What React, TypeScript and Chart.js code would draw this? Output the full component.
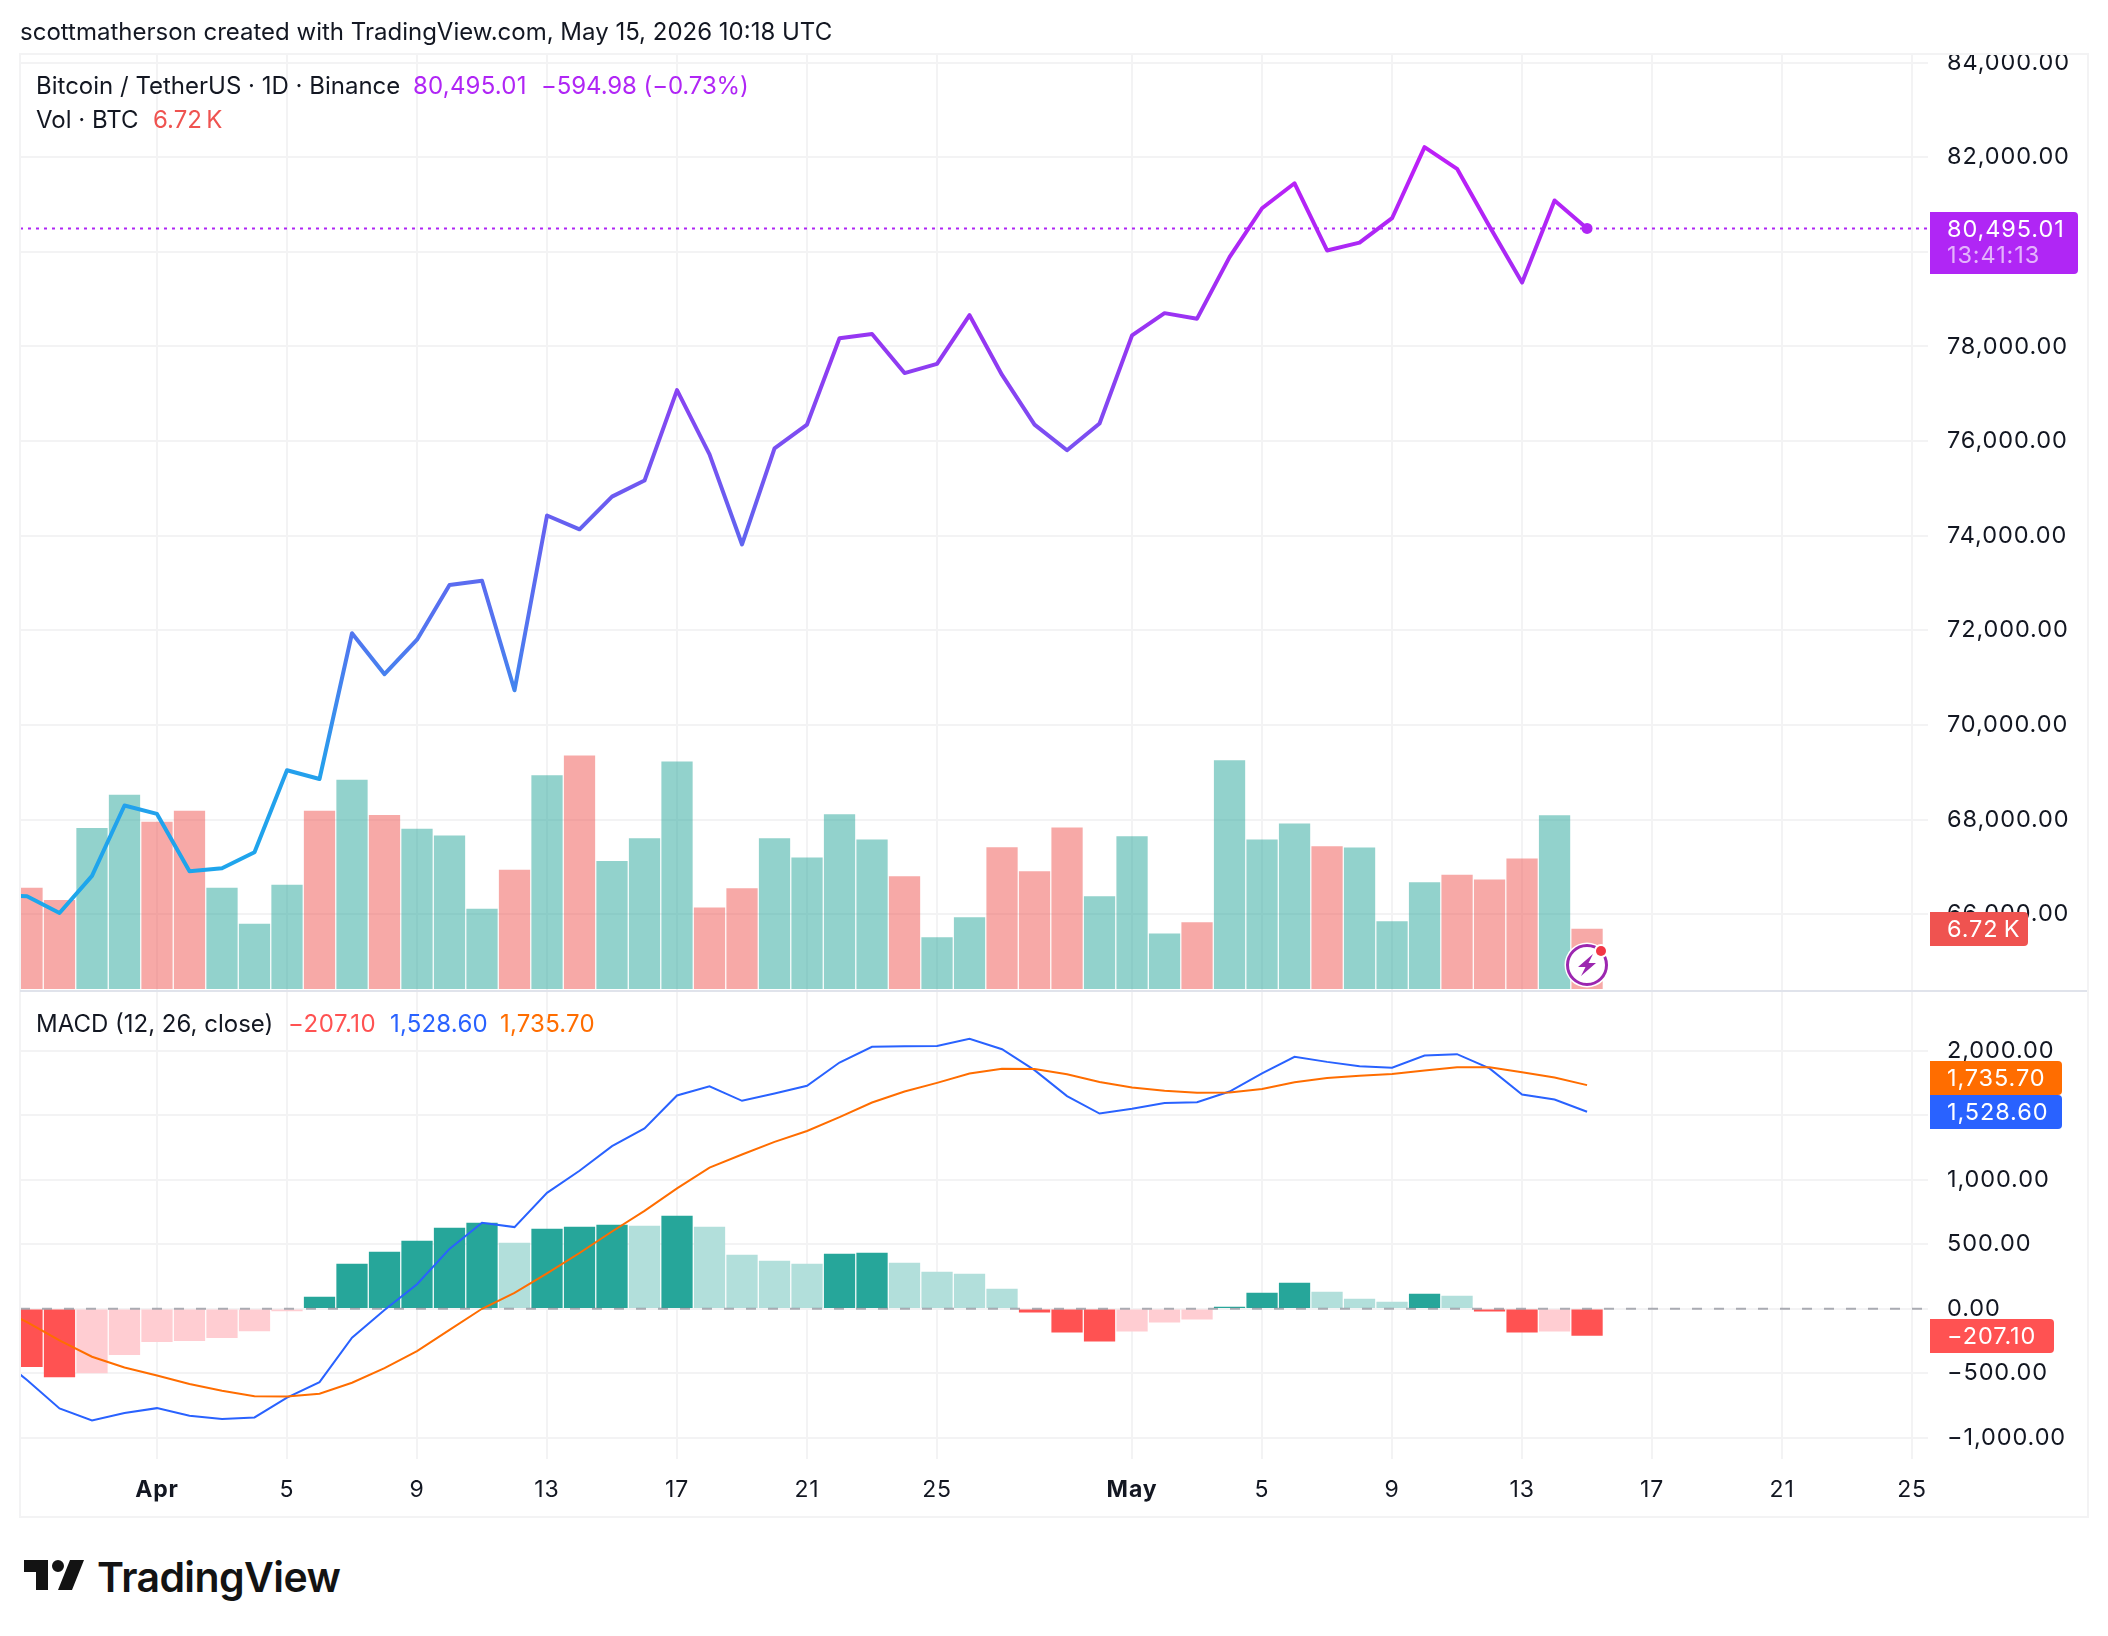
import { useEffect, useRef } from "react";
import { Chart, registerables } from "chart.js";

Chart.register(...registerables);

// day numbers count from Apr 1 = 0. The line series start one day before the
// first visible bar (Mar 27) so they run off the left edge like the original.
const firstLineDay = -5;
const firstBarDay = -4;

const closes = [
  66390, 66381, 66025, 66810, 68298, 68120, 66907, 66972, 67311, 69043, 68857, 71939, 71073, 71801,
  72958, 73047, 70733, 74427, 74135, 74825, 75165, 77078, 75718, 73815, 75844, 76349, 78175, 78262,
  77437, 77631, 78660, 77398, 76349, 75807, 76370, 78235, 78704, 78587, 79889, 80921, 81449, 80029,
  80194, 80710, 82211, 81754, 80534, 79349, 81085, 80495.01,
];

// thousands of BTC
const volumes = [
  11.33, 9.95, 18.05, 21.8, 18.74, 19.99, 11.33, 7.28, 11.67, 19.99, 23.48, 19.52, 17.96, 17.19,
  8.96, 13.35, 23.98, 26.2, 14.32, 16.9, 25.53, 9.1, 11.27, 16.9, 14.73, 19.59, 16.74, 12.61, 5.74,
  8.01, 15.87, 13.18, 18.11, 10.37, 17.11, 6.18, 7.43, 25.67, 16.74, 18.55, 15.99, 15.86, 7.56,
  11.93, 12.8, 12.24, 14.62, 19.49, 6.72,
];

const macdLine = [
  -349, -553, -773, -866, -809, -771, -830, -856, -843, -690, -569, -225, -10, 191, 465, 667, 634,
  900, 1071, 1262, 1399, 1655, 1727, 1614, 1671, 1730, 1911, 2033, 2038, 2040, 2095, 2014, 1852,
  1650, 1515, 1552, 1596, 1603, 1686, 1826, 1955, 1916, 1883, 1870, 1965, 1976, 1865, 1663, 1624,
  1528.6,
];

const signalLine = [
  18, -103, -245, -372, -456, -518, -584, -636, -678, -680, -659, -574, -460, -328, -164, 0, 124,
  275, 433, 600, 760, 934, 1096, 1197, 1295, 1380, 1487, 1601, 1686, 1753, 1826, 1862, 1860, 1820,
  1760, 1718, 1692, 1676, 1678, 1706, 1758, 1790, 1808, 1821, 1849, 1875, 1875, 1836, 1794, 1735.7,
];

const histogram = [
  -450, -528, -497, -357, -256, -248, -225, -171, -16, 91, 347, 440, 525, 626, 665, 509, 618, 634,
  649, 641, 719, 634, 416, 370, 347, 424, 432, 354, 284, 269, 153, -26, -181, -251, -173, -103, -80,
  13, 122, 199, 129, 75, 52, 114, 98, -18, -181, -173, -207.1,
];

const priceTicks = [66000, 68000, 70000, 72000, 74000, 76000, 78000, 80000, 82000, 84000];
const macdTicks = [-1000, -500, 0, 500, 1000, 1500, 2000];
const macdTickLabels = ["−1,000.00", "−500.00", "0.00", "500.00", "1,000.00", "", "2,000.00"];
const timeTickDays = [0, 4, 8, 12, 16, 20, 24, 30, 34, 38, 42, 46, 50, 54];
const timeTickLabels = ["Apr", "5", "9", "13", "17", "21", "25", "May", "5", "9", "13", "17", "21", "25"];

const gradientPrices = [66000, 69000, 70500, 72000, 74000, 76000, 78000, 80000, 82000];
const gradientColors = [
  "#1ca7ec", "#24a0ec", "#3f88ee", "#5375f0", "#6263f0", "#7b4ff2", "#9338f2", "#ab28f5", "#bd1ff8",
];

const FONT = "Inter, 'Noto Sans', sans-serif";
const TEXT = "#131722";
const PURPLE = "#b026f5";
const GRID = "#f3f3f4";
const UP = "#26a69a";
const DOWN = "#ef5350";
const AXIS_SIZE = 23.5;
const AXIS_SPACING = 0.9;

const X_MIN = -4.215;
const X_MAX = 54.49;

const letterSpacing = {
  id: "letterSpacing",
  beforeDraw(chart: any) {
    chart.ctx.letterSpacing = `${AXIS_SPACING}px`;
  },
};

function noPadding(scale: any) {
  scale.paddingTop = 0;
  scale.paddingBottom = 0;
  scale.paddingLeft = 0;
  scale.paddingRight = 0;
}

function points(arr: number[], first: number) {
  return arr.map((y, i) => ({ x: first + i, y }));
}

function xScale(showLabels: boolean, height: number) {
  return {
    type: "linear",
    min: X_MIN,
    max: X_MAX,
    offset: false,
    grid: { color: GRID, lineWidth: 2, drawTicks: false, offset: false },
    border: { display: false },
    afterBuildTicks: (axis: any) => {
      axis.ticks = timeTickDays.map((value) => ({ value }));
    },
    afterFit: (scale: any) => {
      noPadding(scale);
      scale.height = height;
    },
    ticks: {
      display: showLabels,
      autoSkip: false,
      maxRotation: 0,
      padding: 17,
      color: TEXT,
      callback: (_v: number, i: number) => timeTickLabels[i],
      font: (ctx: any) => ({
        family: FONT,
        size: 23,
        weight: ctx.tick && (ctx.tick.label === "Apr" || ctx.tick.label === "May") ? "bold" : "normal",
      }),
    },
  };
}

function yScale(min: number, max: number, values: number[], label: (i: number) => string) {
  return {
    position: "right",
    min,
    max,
    grid: { color: GRID, lineWidth: 2, drawTicks: false },
    border: { display: false },
    afterBuildTicks: (axis: any) => {
      axis.ticks = values.map((value) => ({ value }));
    },
    afterFit: (scale: any) => {
      noPadding(scale);
      scale.width = 180;
    },
    ticks: {
      autoSkip: false,
      crossAlign: "near",
      padding: 19,
      color: TEXT,
      font: { family: FONT, size: AXIS_SIZE },
      callback: (_v: number, i: number) => label(i),
    },
  };
}

function PriceChart() {
  const canvasRef = useRef<HTMLCanvasElement>(null);

  useEffect(() => {
    if (!canvasRef.current) return;
    const last = closes.length - 1;

    const chart = new Chart(canvasRef.current, {
      type: "line",
      data: {
        datasets: [
          {
            type: "line",
            data: [
              { x: X_MIN, y: closes[last] },
              { x: X_MAX, y: closes[last] },
            ],
            borderColor: PURPLE,
            borderWidth: 2,
            borderDash: [3, 5],
            pointRadius: 0,
            order: 2,
          },
          {
            type: "line",
            data: points(closes, firstLineDay),
            borderWidth: 4,
            borderJoinStyle: "round",
            borderCapStyle: "round",
            borderColor: (ctx: any) => {
              const { chart: c } = ctx;
              if (!c.chartArea) return PURPLE;
              const scale = c.scales.y;
              const y0 = scale.getPixelForValue(gradientPrices[0]);
              const y1 = scale.getPixelForValue(gradientPrices[gradientPrices.length - 1]);
              const grad = c.ctx.createLinearGradient(0, y0, 0, y1);
              const span = gradientPrices[gradientPrices.length - 1] - gradientPrices[0];
              gradientPrices.forEach((p, i) => grad.addColorStop((p - gradientPrices[0]) / span, gradientColors[i]));
              return grad;
            },
            pointRadius: (ctx: any) => (ctx.dataIndex === last ? 5.5 : 0),
            pointBackgroundColor: PURPLE,
            pointBorderWidth: 0,
            order: 1,
          },
          {
            type: "bar",
            yAxisID: "vol",
            data: points(volumes, firstBarDay),
            barThickness: 30.6,
            // closes has one extra leading day, so closes[i + 1] is this bar's close
            backgroundColor: volumes.map((_, i) =>
              closes[i + 1] >= closes[i] ? "rgba(38,166,154,0.5)" : "rgba(239,83,80,0.5)"
            ),
            order: 3,
          },
        ],
      },
      options: {
        animation: false,
        responsive: false,
        // 6px top and bottom: Chart.js keeps room for point overflow anyway
        layout: { padding: { left: 20, right: 0, top: 6, bottom: 6 } },
        plugins: { legend: { display: false }, tooltip: { enabled: false } },
        scales: {
          x: xScale(false, 0),
          y: yScale(64377, 84202, priceTicks, (i) => priceTicks[i].toLocaleString("en-US", { minimumFractionDigits: 2 })),
          vol: {
            display: false,
            min: -0.259,
            max: 105.3,
            afterFit: noPadding,
          },
        },
      },
      plugins: [letterSpacing],
    } as any);

    return () => chart.destroy();
  }, []);

  return <canvas ref={canvasRef} width={2108} height={950} style={{ position: "absolute", left: 0, top: 47, display: "block" }} />;
}

function MacdChart() {
  const canvasRef = useRef<HTMLCanvasElement>(null);

  useEffect(() => {
    if (!canvasRef.current) return;

    const histColor = (v: number, i: number) => {
      const prev = i > 0 ? histogram[i - 1] : 0;
      if (v >= 0) return v >= prev ? UP : "#b2dfdb";
      return v < prev ? "#ff5252" : "#ffcdd2";
    };

    const chart = new Chart(canvasRef.current, {
      type: "line",
      data: {
        datasets: [
          {
            type: "line",
            data: points(signalLine, firstLineDay),
            borderColor: "#ff6d00",
            borderWidth: 2,
            pointRadius: 0,
            order: 1,
          },
          {
            type: "line",
            data: points(macdLine, firstLineDay),
            borderColor: "#2962ff",
            borderWidth: 2,
            pointRadius: 0,
            order: 2,
          },
          {
            type: "line",
            data: [
              { x: X_MIN, y: 0 },
              { x: X_MAX, y: 0 },
            ],
            borderColor: "rgba(120,123,134,0.6)",
            borderWidth: 2,
            borderDash: [10, 12],
            pointRadius: 0,
            order: 3,
          },
          {
            type: "bar",
            data: points(histogram, firstBarDay),
            barThickness: 30.6,
            backgroundColor: histogram.map(histColor),
            order: 4,
          },
        ],
      },
      options: {
        animation: false,
        responsive: false,
        layout: { padding: { left: 20, right: 0, top: 6, bottom: 0 } },
        plugins: { legend: { display: false }, tooltip: { enabled: false } },
        scales: {
          x: xScale(true, 56.7),
          y: yScale(-1168, 2466, macdTicks, (i) => macdTickLabels[i]),
        },
      },
      plugins: [letterSpacing],
    } as any);

    return () => chart.destroy();
  }, []);

  return <canvas ref={canvasRef} width={2108} height={531} style={{ position: "absolute", left: 0, top: 985, display: "block" }} />;
}

function Txt({ x, cy, size = 24, color = TEXT, weight = 400, spacing = 0, children }: any) {
  return (
    <div
      style={{
        position: "absolute",
        left: x,
        top: cy,
        transform: "translateY(-50%)",
        fontFamily: FONT,
        fontSize: size,
        fontWeight: weight,
        letterSpacing: spacing,
        color,
        lineHeight: 1,
        whiteSpace: "nowrap",
      }}
    >
      {children}
    </div>
  );
}

function Tag({ top, bottom, right, color }: any) {
  return (
    <div
      style={{
        position: "absolute",
        left: 1930,
        top,
        width: right - 1930,
        height: bottom - top,
        background: color,
        borderRadius: "0 4px 4px 0",
      }}
    />
  );
}

function AxisTag({ cy, color = "#fff", children }: any) {
  return (
    <Txt x={1947} cy={cy} size={AXIS_SIZE} spacing={AXIS_SPACING} color={color}>
      {children}
    </Txt>
  );
}

export default function App() {
  return (
    <div style={{ position: "absolute", left: 0, top: 0, width: 2108, height: 1636, background: "#fff", overflow: "hidden" }}>
      <PriceChart />
      <MacdChart />

      {/* the top tick label is cut by the frame */}
      <div style={{ position: "absolute", left: 0, top: 44, width: 2108, height: 9, background: "#fff" }} />

      <Txt x={20} cy={32} size={24}>
        scottmatherson created with TradingView.com, May 15, 2026 10:18 UTC
      </Txt>

      {/* frame and pane separator */}
      <div style={{ position: "absolute", left: 19, top: 53, width: 2066, height: 1461, border: "2px solid #f3f3f4" }} />
      <div style={{ position: "absolute", left: 20, top: 989.5, width: 2067, height: 2, background: "#e0e3eb" }} />

      <Txt x={36} cy={86}>Bitcoin / TetherUS · 1D · Binance</Txt>
      <Txt x={413} cy={86} color={PURPLE} spacing={0.2}>80,495.01</Txt>
      <Txt x={541} cy={86} color={PURPLE} spacing={-0.1}>−594.98 (−0.73%)</Txt>
      <Txt x={36} cy={120}>Vol · BTC</Txt>
      <Txt x={153} cy={120} color={DOWN}>6.72{"\u202f"}K</Txt>

      <Txt x={36} cy={1024}>MACD (12, 26, close)</Txt>
      <Txt x={288} cy={1024} color="#ff5252" spacing={0.5}>−207.10</Txt>
      <Txt x={390} cy={1024} color="#2962ff" spacing={0.2}>1,528.60</Txt>
      <Txt x={500} cy={1024} color="#ff6d00" spacing={0.2}>1,735.70</Txt>

      <Tag top={212} bottom={274} right={2078} color={PURPLE} />
      <AxisTag cy={229}>80,495.01</AxisTag>
      <AxisTag cy={255} color="rgba(255,255,255,0.65)">13:41:13</AxisTag>

      <Tag top={912} bottom={946} right={2028} color={DOWN} />
      <AxisTag cy={929}>6.72{"\u202f"}K</AxisTag>

      <Tag top={1061} bottom={1095} right={2062} color="#ff6d00" />
      <AxisTag cy={1078}>1,735.70</AxisTag>
      <Tag top={1095} bottom={1129} right={2062} color="#2962ff" />
      <AxisTag cy={1112}>1,528.60</AxisTag>

      <Tag top={1319} bottom={1353} right={2054} color="#ff5252" />
      <AxisTag cy={1336}>−207.10</AxisTag>

      {/* realtime badge on the last bar */}
      <svg style={{ position: "absolute", left: 1560, top: 938 }} width={54} height={54} viewBox="0 0 54 54">
        <circle cx={27} cy={27} r={22.5} fill="#fff" />
        <circle cx={27} cy={27} r={19.5} fill="#fff" stroke="#9c27b0" strokeWidth={3} />
        <path d="M33 16 L18 29 L25.5 29 L21 38 L36 25 L28.5 25 Z" fill="#9c27b0" />
        <circle cx={41} cy={13} r={7} fill="#fff" />
        <circle cx={41} cy={13} r={5} fill="#f23645" />
      </svg>

      {/* logo */}
      <svg style={{ position: "absolute", left: 24, top: 1560 }} width={60} height={30} viewBox="2 6 30 15">
        <path d="M14 6H2v6h6v9h6V6Zm12 15h-7l6-15h7l-6 15Zm-7-9a3 3 0 1 0 0-6 3 3 0 0 0 0 6Z" fill="#131313" />
      </svg>
      <Txt x={97} cy={1577} size={41} weight={600} color="#131313" spacing={-0.6}>TradingView</Txt>
    </div>
  );
}
